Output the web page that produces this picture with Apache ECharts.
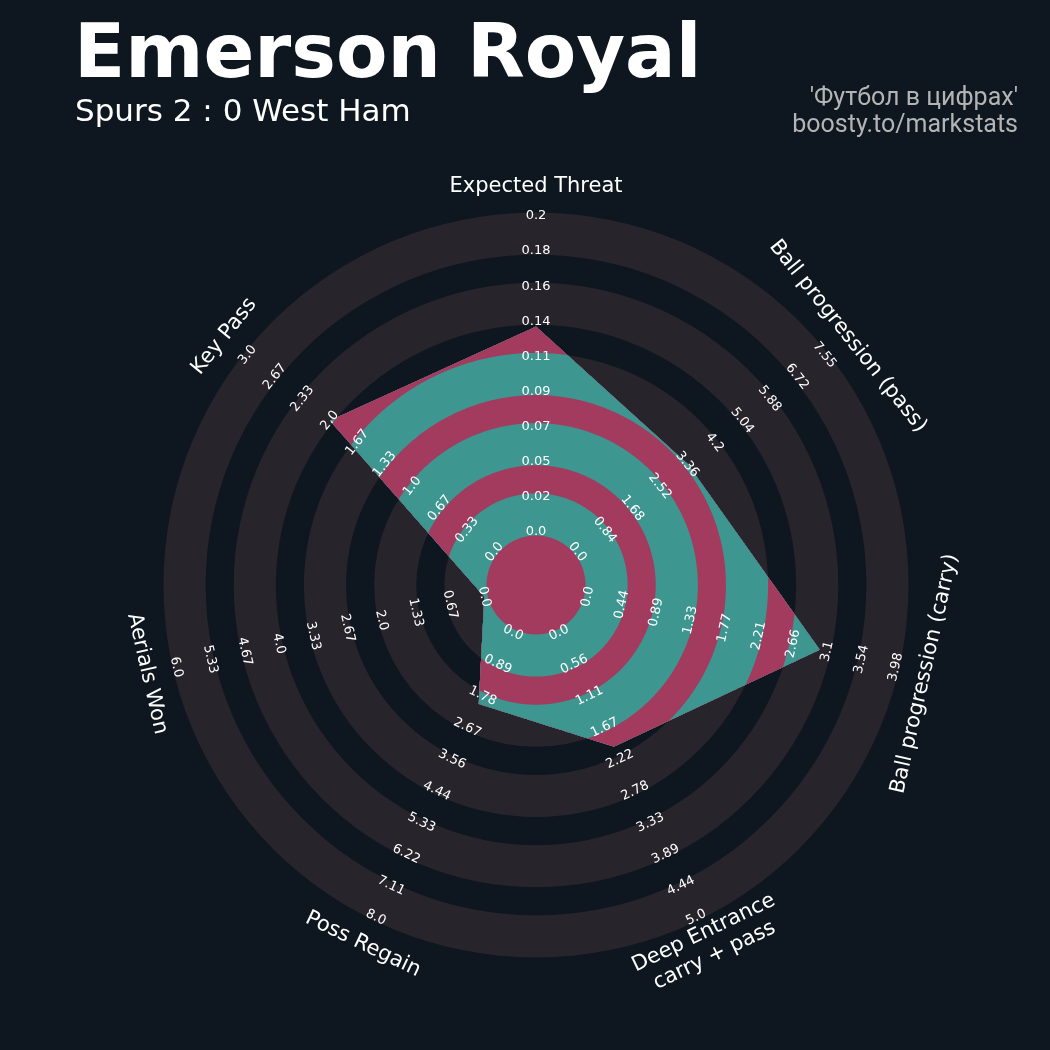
<!DOCTYPE html>
<html><head><meta charset="utf-8">
<script src="https://cdn.jsdelivr.net/npm/echarts@6/dist/echarts.min.js"></script>
<style>html,body{margin:0;padding:0;background:#0e1720}#c{width:1050px;height:1050px}</style>
</head><body><div id="c"></div>
<script>
// ---- data ----
const paramNames = ['Expected Threat', 'Ball progression (pass)', 'Ball progression (carry)', 'Deep Entrance\ncarry + pass', 'Poss Regain', 'Aerials Won', 'Key Pass'];
const minRange = [0, 0, 0, 0, 0, 0, 0];
const maxRange = [0.2, 7.55, 3.98, 5.0, 8.0, 6.0, 3.0];
const playerValues = [0.13, 3.37, 3.0, 2.0, 2.0, 0.0, 2.0];
const tickXT = ['0.0', '0.02', '0.05', '0.07', '0.09', '0.11', '0.14', '0.16', '0.18', '0.2'];
const tickPass = ['0.0', '0.84', '1.68', '2.52', '3.36', '4.2', '5.04', '5.88', '6.72', '7.55'];
const tickCarry = ['0.0', '0.44', '0.89', '1.33', '1.77', '2.21', '2.66', '3.1', '3.54', '3.98'];
const tickDeep = ['0.0', '0.56', '1.11', '1.67', '2.22', '2.78', '3.33', '3.89', '4.44', '5.0'];
const tickRegain = ['0.0', '0.89', '1.78', '2.67', '3.56', '4.44', '5.33', '6.22', '7.11', '8.0'];
const tickAerial = ['0.0', '0.67', '1.33', '2.0', '2.67', '3.33', '4.0', '4.67', '5.33', '6.0'];
const tickKeyPass = ['0.0', '0.33', '0.67', '1.0', '1.33', '1.67', '2.0', '2.33', '2.67', '3.0'];
const tickLabels = [tickXT, tickPass, tickCarry, tickDeep, tickRegain, tickAerial, tickKeyPass];
const titleText = 'Emerson Royal';
const subtitleText = 'Spurs 2 : 0 West Ham';
const creditText = "'Футбол в цифрах'\nboosty.to/markstats";

// ---- layout / style ----
const STEPS = tickXT.length - 1;           // 9 label steps on each spoke
const RINGS = [[-0.1, 1.1], [1.9, 3.1], [3.9, 5.1], [5.9, 7.1], [7.9, 9.1]]; // in step units
const NAME_R = 9.85;
const C_BG = '#0e1720', C_RING = '#28242b', C_TEAL = '#3e9690', C_PINK = '#a33b5f';
const F_DV = "'DejaVu Sans', sans-serif";

const nAx = paramNames.length;
const axisAngle = i => (((90 - i * 360 / nAx) % 360) + 360) % 360;
function textRot(a) {
  let r = a - 90;
  r = ((r + 180) % 360 + 360) % 360 - 180;
  if (r > 90) r -= 180; else if (r < -90) r += 180;
  return r * Math.PI / 180;
}

function renderRadar(p, api) {
  const cx = p.coordSys.cx, cy = p.coordSys.cy;
  const p0 = api.coord([0, 0]), p9 = api.coord([STEPS, 0]);
  const rad = u => (p0[0] - cx) + (p9[0] - p0[0]) * u / STEPS;
  const children = [];
  RINGS.forEach(([a, b]) => children.push({type: 'ring', shape: {cx, cy, r: rad(b), r0: rad(a)}, style: {fill: C_RING}}));
  const verts = playerValues.map((v, i) => {
    const u = (v - minRange[i]) / (maxRange[i] - minRange[i]) * STEPS;
    return api.coord([u, axisAngle(i)]);
  });
  children.push({type: 'polygon', shape: {points: verts}, style: {fill: C_PINK}});
  const rel = verts.map(q => [q[0] - cx, q[1] - cy]);
  const cross = (a, b) => a[0] * b[1] - a[1] * b[0];
  function extent(th) {
    const d = [Math.cos(th), -Math.sin(th)];
    let best = 0;
    for (let i = 0; i < rel.length; i++) {
      const A = rel[i], B = rel[(i + 1) % rel.length];
      const e = [B[0] - A[0], B[1] - A[1]];
      const den = cross(d, e);
      if (Math.abs(den) < 1e-12) continue;
      const t = cross(A, e) / den, s = cross(A, d) / den;
      if (t > 0 && s >= -1e-9 && s <= 1 + 1e-9) best = Math.max(best, t);
    }
    return best;
  }
  const angs = [];
  const N = 1440;
  for (let k = 0; k < N; k++) angs.push(k * 2 * Math.PI / N);
  rel.forEach(q => { let a = Math.atan2(-q[1], q[0]); if (a < 0) a += 2 * Math.PI; angs.push(a); });
  angs.sort((a, b) => a - b);
  const ext = angs.map(extent);
  const clipped = (r) => angs.map((a, k) => {
    const rho = Math.min(ext[k], r);
    return [cx + rho * Math.cos(a), cy - rho * Math.sin(a)];
  });
  const bounds = [];
  RINGS.forEach(([a, b]) => { bounds.push([b, C_TEAL]); bounds.push([a, C_PINK]); });
  bounds.sort((x, y) => y[0] - x[0]);
  bounds.forEach(([u, col]) => children.push({type: 'polygon', shape: {points: clipped(rad(u))}, style: {fill: col}}));
  tickLabels.forEach((arr, i) => {
    const ang = axisAngle(i), rot = textRot(ang);
    arr.forEach((t, j) => {
      const q = api.coord([j, ang]);
      children.push({type: 'text', x: q[0], y: q[1], rotation: rot,
        style: {text: t, fill: '#ffffff', font: '13px ' + F_DV, align: 'center', verticalAlign: 'middle'}});
    });
  });
  paramNames.forEach((nm, i) => {
    const ang = axisAngle(i);
    const q = api.coord([NAME_R, ang]);
    children.push({type: 'text', x: q[0], y: q[1], rotation: textRot(ang),
      style: {text: nm, fill: '#ffffff', font: '21px ' + F_DV, lineHeight: 25, align: 'center', verticalAlign: 'middle'}});
  });
  return {type: 'group', children};
}

const chart = echarts.init(document.getElementById('c'), null, {renderer: 'canvas'});
chart.setOption({
  backgroundColor: C_BG,
  animation: false,
  polar: {center: [536, 585], radius: [53, 369]},
  angleAxis: {type: 'value', min: 0, max: 360, startAngle: 0, clockwise: false,
    axisLine: {show: false}, axisTick: {show: false}, axisLabel: {show: false}, splitLine: {show: false}},
  radiusAxis: {type: 'value', min: 0, max: STEPS,
    axisLine: {show: false}, axisTick: {show: false}, axisLabel: {show: false}, splitLine: {show: false}},
  series: [{type: 'custom', coordinateSystem: 'polar', clip: false, silent: true,
    data: [[0, 0]], renderItem: renderRadar}],
  graphic: [
    {type: 'text', x: 74, y: 58, style: {text: titleText, fill: '#ffffff', font: 'bold 75px ' + F_DV, verticalAlign: 'middle'}},
    {type: 'text', x: 75, y: 113, style: {text: subtitleText, fill: '#ffffff', font: '31px ' + F_DV, verticalAlign: 'middle'}},
    {type: 'text', x: 1018, y: 112.5, style: {text: creditText, fill: '#b4b4b4', font: "25px Roboto, sans-serif", lineHeight: 27, align: 'right', verticalAlign: 'middle'}}
  ]
});
</script></body></html>
